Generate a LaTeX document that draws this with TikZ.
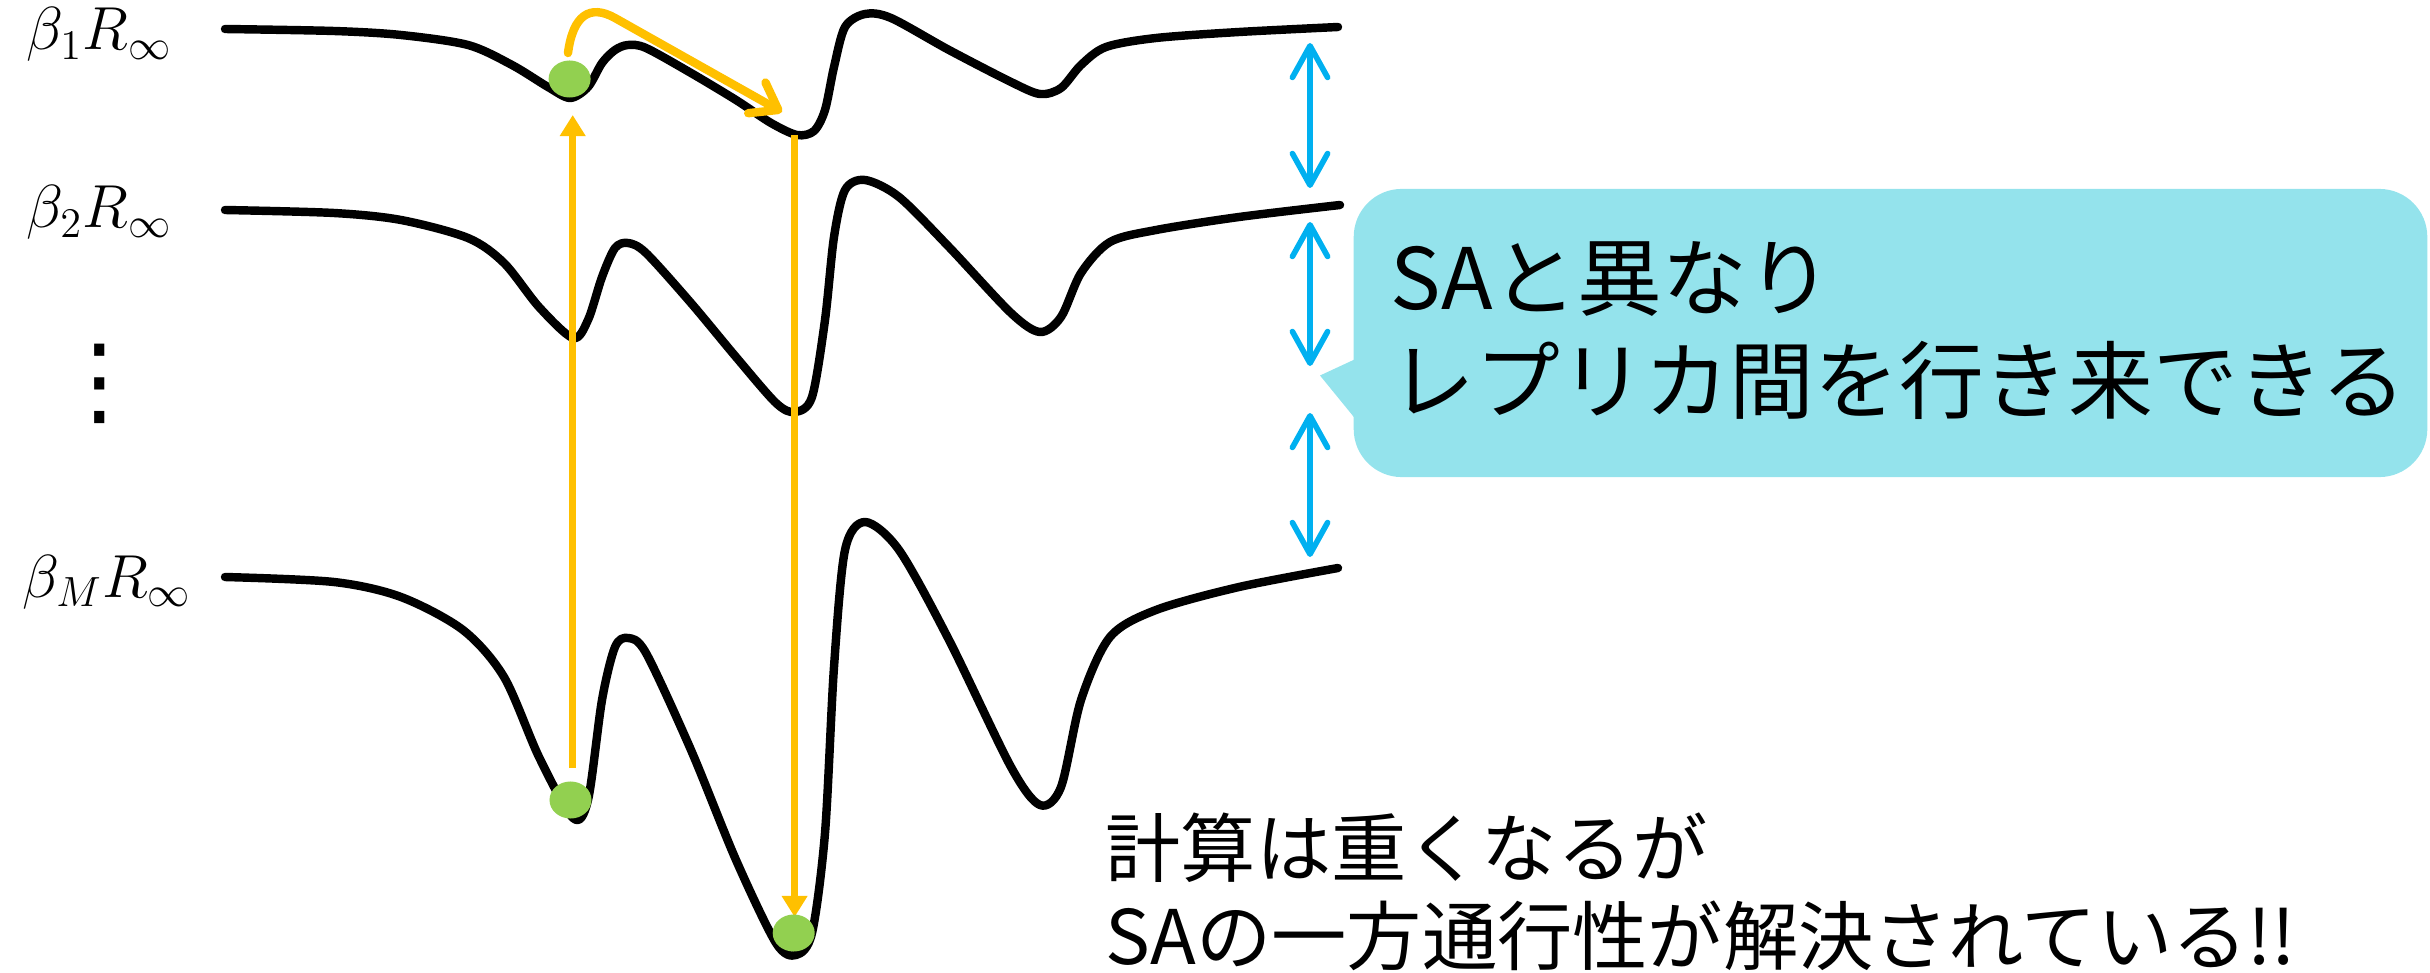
\documentclass[tikz,border=0pt]{standalone}
\usepackage{fontspec}
\newfontfamily\jp{Noto Sans CJK JP}
\newfontfamily\dejavu{DejaVu Sans}
\usetikzlibrary{arrows.meta,shapes.geometric}
\definecolor{cOrange}{RGB}{255,192,0}
\definecolor{cGreen}{RGB}{146,208,80}
\definecolor{cBlue}{RGB}{0,176,240}
\definecolor{cCallout}{RGB}{148,227,236}
\begin{document}
\begin{tikzpicture}[x=0.01cm,y=-0.01cm,
  landscape/.style={line width=2.4pt, line join=round, line cap=round},
  ball/.style={ellipse, fill=cGreen, minimum width=0.42cm, minimum height=0.37cm, inner sep=0pt},
  jump/.style={cOrange, line width=2pt, -{Triangle[length=6pt,width=7pt]}},
  hop/.style={cOrange, line width=2.4pt, line cap=round, -{Straight Barb[round,length=7pt,width=10pt]}},
  swap/.style={cBlue, line width=1.6pt, {Straight Barb[round,length=9pt,width=10pt]}-{Straight Barb[round,length=9pt,width=10pt]}},
  lbl/.style={inner sep=0pt, font=\fontsize{16.5pt}{19pt}\selectfont},
  callbox/.style={rectangle, fill=cCallout, rounded corners=0.48cm, inner sep=0pt},
  bigjp/.style={inner sep=0pt, font=\jp\fontsize{24.1pt}{28pt}\selectfont},
  midjp/.style={inner sep=0pt, font=\jp\fontsize{21.4pt}{25pt}\selectfont}
]
\useasboundingbox (0,0) rectangle (2430,973);

% energy landscapes
\draw[landscape] plot[smooth,tension=0.5] coordinates {
 (225,29) (334,31) (401,35) (468,45) (512,65) (548,87) (570,98) (588,87) (602,63) (615,50) (628,45) (646,48)
 (691,73) (736,100) (771,123) (797,135) (814,131) (825,110) (834,67) (845,27) (865,14) (891,18) (949,50)
 (1011,82) (1040,94) (1061,88) (1081,65) (1106,47) (1156,38) (1239,32) (1338,27)};
\draw[landscape] plot[smooth,tension=0.5] coordinates {
 (225,210) (334,213) (401,220) (468,238) (504,263) (539,307) (573,338) (588,320) (602,277) (615,248) (628,243)
 (646,253) (691,303) (736,357) (776,403) (795,412) (812,397) (825,320) (834,237) (845,190) (865,180) (899,197)
 (949,247) (1011,313) (1040,332) (1061,317) (1081,273) (1110,242) (1156,230) (1239,217) (1340,205)};
\draw[landscape] plot[smooth,tension=0.5] coordinates {
 (225,577) (334,582) (401,597) (463,630) (504,677) (539,757) (573,818) (588,800) (602,700) (615,647) (628,638)
 (646,653) (691,750) (736,860) (776,943) (796,955) (812,933) (825,833) (834,667) (845,550) (865,522) (899,550)
 (949,640) (1011,767) (1040,805) (1061,787) (1081,700) (1110,637) (1156,610) (1239,587) (1338,568)};

% labels
\node[lbl, anchor=base west] (l1) at (26,50) {$\beta_1R_\infty$};
\node[lbl, anchor=base west] (l2) at (26,228) {$\beta_2R_\infty$};
\node[inner sep=0pt, font=\dejavu\fontsize{28pt}{28pt}\selectfont] (ld) at (100,384) {⋮};
\node[lbl, anchor=base west] (lm) at (22,597) {$\beta_MR_\infty$};

% orange moves
\coordinate (h1) at (568,53);
\coordinate (h2) at (782,112);
\draw[hop] (h1) .. controls (573,15) and (590,4) .. (615,18) -- (h2);
\coordinate (u1) at (572.7,768);
\coordinate (u2) at (572.7,115);
\draw[jump] (u1) -- (u2);
\coordinate (d1) at (794.6,135);
\coordinate (d2) at (794.6,917);
\draw[jump] (d1) -- (d2);

% balls
\node[ball] (b1) at (569.6,79) {};
\node[ball] (b2) at (570.5,800) {};
\node[ball] (b3) at (793.7,933) {};

% replica exchange arrows
\coordinate (s1a) at (1310,43);  \coordinate (s1b) at (1310,188);
\coordinate (s2a) at (1310,222); \coordinate (s2b) at (1310,366);
\coordinate (s3a) at (1310,413); \coordinate (s3b) at (1310,557);
\draw[swap] (s1a) -- (s1b);
\draw[swap] (s2a) -- (s2b);
\draw[swap] (s3a) -- (s3b);

% callout
\node[callbox, minimum width=10.73cm, minimum height=2.88cm] (callout) at (1890.5,333) {};
\fill[cCallout] (1362,356) -- (1320,375.5) -- (1362,427) -- cycle;
\node[bigjp, anchor=base west] (c1) at (1390,310) {SAと異なり};
\node[bigjp, anchor=base west] (c2) at (1390,412) {レプリカ間を行き来できる};

% bottom note
\node[midjp, anchor=base west] (n1) at (1105,876) {計算は重くなるが};
\node[midjp, anchor=base west] (n2) at (1105,964) {SAの一方通行性が解決されている!!};
\end{tikzpicture}
\end{document}
